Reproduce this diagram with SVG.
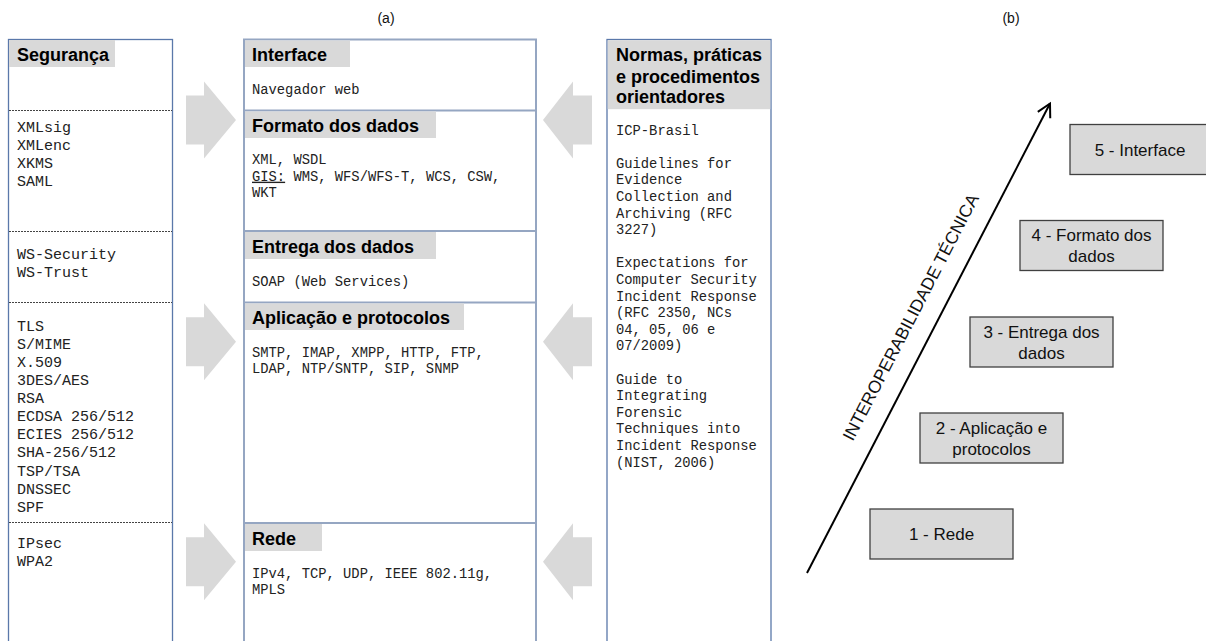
<svg xmlns="http://www.w3.org/2000/svg" width="1206" height="641" viewBox="0 0 1206 641">
<style>
.frame{fill:#fff;stroke:#5a78aa;stroke-width:1.3}
.mframe{fill:#fff;stroke:#95a6c2;stroke-width:2}
.sep{stroke:#95a6c2;stroke-width:2}
.dash{stroke:#444;stroke-width:1;stroke-dasharray:2,1}
.hdr{fill:#d9d9d9}
.ht{font-family:"Liberation Sans",Arial,sans-serif;font-weight:bold;font-size:18px;fill:#000}
.m15{font-family:"Liberation Mono","Courier New",monospace;font-size:15px;fill:#222}
.m14{font-family:"Liberation Mono","Courier New",monospace;font-size:13.8px;fill:#222}
.garrow{fill:#d9d9d9}
.lvl{fill:#d9d9d9;stroke:#404040;stroke-width:1.3}
.lt{font-family:"Liberation Sans",Arial,sans-serif;font-size:17px;fill:#111;text-anchor:middle}
.cap{font-family:"Liberation Sans",Arial,sans-serif;font-size:14px;fill:#111;text-anchor:middle}
</style>
<defs>
<marker id="openhead" markerUnits="userSpaceOnUse" markerWidth="30" markerHeight="30" refX="0" refY="0" viewBox="-15 -15 30 30" orient="auto">
<path d="M-13,-7 L0,0 L-13,7" fill="none" stroke="#000" stroke-width="2"/>
</marker>
</defs>
<rect width="1206" height="641" fill="#fff"/>
<text class="cap" x="386" y="23">(a)</text>
<text class="cap" x="1011" y="23">(b)</text>

<g id="seguranca">
<rect class="frame" x="8.5" y="39.5" width="164" height="620"/>
<rect class="hdr" x="9" y="40" width="106" height="27"/>
<text class="ht" x="17" y="60.5">Segurança</text>
<line class="dash" x1="9" y1="110.5" x2="172" y2="110.5"/>
<line class="dash" x1="9" y1="231.5" x2="172" y2="231.5"/>
<line class="dash" x1="9" y1="302.5" x2="172" y2="302.5"/>
<line class="dash" x1="9" y1="522.5" x2="172" y2="522.5"/>
<text class="m15" x="17"><tspan x="17" y="132">XMLsig</tspan><tspan x="17" y="150">XMLenc</tspan><tspan x="17" y="168">XKMS</tspan><tspan x="17" y="186">SAML</tspan></text>
<text class="m15" x="17"><tspan x="17" y="259">WS-Security</tspan><tspan x="17" y="277">WS-Trust</tspan></text>
<text class="m15" x="17"><tspan x="17" y="330.7">TLS</tspan><tspan x="17" y="348.8">S/MIME</tspan><tspan x="17" y="366.9">X.509</tspan><tspan x="17" y="385">3DES/AES</tspan><tspan x="17" y="403.1">RSA</tspan><tspan x="17" y="421.2">ECDSA 256/512</tspan><tspan x="17" y="439.3">ECIES 256/512</tspan><tspan x="17" y="457.4">SHA-256/512</tspan><tspan x="17" y="475.5">TSP/TSA</tspan><tspan x="17" y="493.6">DNSSEC</tspan><tspan x="17" y="511.7">SPF</tspan></text>
<text class="m15" x="17"><tspan x="17" y="548.3">IPsec</tspan><tspan x="17" y="566.4">WPA2</tspan></text>
</g>

<g id="camadas">
<rect class="mframe" x="244" y="39.5" width="292" height="620"/>
<line class="sep" x1="244" y1="110.5" x2="536" y2="110.5"/>
<line class="sep" x1="244" y1="231" x2="536" y2="231"/>
<line class="sep" x1="244" y1="302.5" x2="536" y2="302.5"/>
<line class="sep" x1="244" y1="523" x2="536" y2="523"/>
<g id="interface">
<rect class="hdr" x="245" y="40.5" width="105" height="26.5"/>
<text class="ht" x="252" y="60.5">Interface</text>
<text class="m14" x="252" y="94">Navegador web</text>
</g>
<g id="formato">
<rect class="hdr" x="245" y="111.5" width="191" height="26.5"/>
<text class="ht" x="252" y="131.5">Formato dos dados</text>
<text class="m14"><tspan x="252" y="164">XML, WSDL</tspan><tspan x="252" y="180.7"><tspan text-decoration="underline">GIS:</tspan> WMS, WFS/WFS-T, WCS, CSW,</tspan><tspan x="252" y="197.3">WKT</tspan></text>
</g>
<g id="entrega">
<rect class="hdr" x="245" y="232" width="191" height="27"/>
<text class="ht" x="252" y="252.5">Entrega dos dados</text>
<text class="m14" x="252" y="286">SOAP (Web Services)</text>
</g>
<g id="aplicacao">
<rect class="hdr" x="245" y="303.5" width="219" height="26.5"/>
<text class="ht" x="252" y="323.5">Aplicação e protocolos</text>
<text class="m14"><tspan x="252" y="357.3">SMTP, IMAP, XMPP, HTTP, FTP,</tspan><tspan x="252" y="373.3">LDAP, NTP/SNTP, SIP, SNMP</tspan></text>
</g>
<g id="rede">
<rect class="hdr" x="245" y="524" width="77" height="27"/>
<text class="ht" x="252" y="544.5">Rede</text>
<text class="m14"><tspan x="252" y="578.3">IPv4, TCP, UDP, IEEE 802.11g,</tspan><tspan x="252" y="594.3">MPLS</tspan></text>
</g>
</g>

<g id="normas">
<rect class="frame" x="607" y="39.5" width="164" height="620"/>
<rect class="hdr" x="607.7" y="40.2" width="162.6" height="69"/>
<text class="ht"><tspan x="616" y="61">Normas, práticas</tspan><tspan x="616" y="82.5">e procedimentos</tspan><tspan x="616" y="103">orientadores</tspan></text>
<text class="m14"><tspan x="616" y="134.5">ICP-Brasil</tspan><tspan x="616" y="167.7">Guidelines for</tspan><tspan x="616" y="184.3">Evidence</tspan><tspan x="616" y="200.9">Collection and</tspan><tspan x="616" y="217.5">Archiving (RFC</tspan><tspan x="616" y="234.1">3227)</tspan><tspan x="616" y="267.3">Expectations for</tspan><tspan x="616" y="283.9">Computer Security</tspan><tspan x="616" y="300.5">Incident Response</tspan><tspan x="616" y="317.1">(RFC 2350, NCs</tspan><tspan x="616" y="333.7">04, 05, 06 e</tspan><tspan x="616" y="350.3">07/2009)</tspan><tspan x="616" y="383.5">Guide to</tspan><tspan x="616" y="400.1">Integrating</tspan><tspan x="616" y="416.7">Forensic</tspan><tspan x="616" y="433.3">Techniques into</tspan><tspan x="616" y="449.9">Incident Response</tspan><tspan x="616" y="466.5">(NIST, 2006)</tspan></text>
</g>

<g id="connectors">
<polygon class="garrow" points="186,95.5 204,95.5 204,81.5 236,120 204,158.5 204,144.5 186,144.5"/>
<polygon class="garrow" points="186,317.2 204,317.2 204,303.2 236,341.7 204,380.2 204,366.2 186,366.2"/>
<polygon class="garrow" points="186,537.2 204,537.2 204,523.2 236,561.7 204,600.2 204,586.2 186,586.2"/>
<polygon class="garrow" points="592,95.5 573,95.5 573,81.5 543,120 573,158.5 573,144.5 592,144.5"/>
<polygon class="garrow" points="592,317.2 573,317.2 573,303.2 543,341.7 573,380.2 573,366.2 592,366.2"/>
<polygon class="garrow" points="592,537.2 573,537.2 573,523.2 543,561.7 573,600.2 573,586.2 592,586.2"/>
<line x1="807" y1="573" x2="1050" y2="103.5" stroke="#000" stroke-width="2" marker-end="url(#openhead)"/>
<text font-family="Liberation Sans, Arial, sans-serif" font-size="17.5" fill="#111" text-anchor="middle" transform="translate(916,320) rotate(-62.6)">INTEROPERABILIDADE TÉCNICA</text>
</g>

<g id="nivel1"><rect class="lvl" x="870" y="509" width="143" height="50"/><text class="lt" x="941.5" y="540">1 - Rede</text></g>
<g id="nivel2"><rect class="lvl" x="920" y="413" width="143" height="50"/><text class="lt" x="991.5" y="433.5">2 - Aplicação e</text><text class="lt" x="991.5" y="454.5">protocolos</text></g>
<g id="nivel3"><rect class="lvl" x="970" y="317" width="143" height="50"/><text class="lt" x="1041.5" y="337.5">3 - Entrega dos</text><text class="lt" x="1041.5" y="358.5">dados</text></g>
<g id="nivel4"><rect class="lvl" x="1020" y="220.5" width="143" height="50"/><text class="lt" x="1091.5" y="241">4 - Formato dos</text><text class="lt" x="1091.5" y="262">dados</text></g>
<g id="nivel5"><rect class="lvl" x="1070" y="124.5" width="143" height="50"/><text class="lt" x="1140" y="155.5">5 - Interface</text></g>
</svg>
